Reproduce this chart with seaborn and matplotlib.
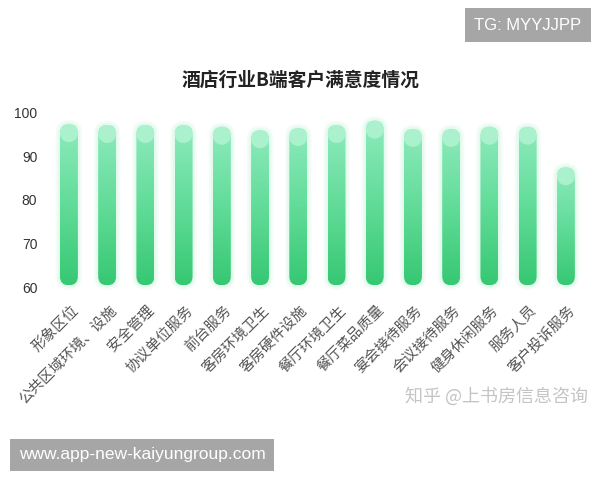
import matplotlib
matplotlib.use("Agg")
import matplotlib.pyplot as plt
import matplotlib.transforms as mtransforms
import numpy as np
import pandas as pd
import seaborn as sns
from matplotlib.colors import LinearSegmentedColormap
from matplotlib.patches import FancyBboxPatch, Ellipse

sns.set_style("white")
plt.rcParams["font.family"] = ["Noto Sans CJK SC", "DejaVu Sans"]

# Data
categories = ["形象区位", "公共区域环境、设施", "安全管理", "协议单位服务", "前台服务",
              "客房环境卫生", "客房硬件设施", "餐厅环境卫生", "餐厅菜品质量",
              "宴会接待服务", "会议接待服务", "健身休闲服务", "服务人员", "客户投诉服务"]
scores = [97.4, 97.2, 97.2, 97.2, 96.8, 96.0, 96.5, 97.2, 98.2, 96.3, 96.3, 96.8, 96.8, 87.5]
y_ticks = [60, 70, 80, 90, 100]

df = pd.DataFrame({"item": categories, "score": scores})

fig = plt.figure(figsize=(6, 4.8), dpi=100)
ax = fig.add_axes([0.083, 0.402, 0.892, 0.363])

sns.barplot(data=df, x="item", y="score", width=0.47, color="#5fdc98", ax=ax)
ax.set_ylim(60, 100)
ax.set_xlim(-0.5, len(categories) - 0.5)

# pixel scale so the rounded ends come out circular
fig.canvas.draw()
p0 = ax.transData.transform((0, 60))
p1 = ax.transData.transform((1, 70))
aspect = (p1[0] - p0[0]) / ((p1[1] - p0[1]) / 10)

cmap = LinearSegmentedColormap.from_list("grn", ["#36c873", "#62dc99", "#8eebbd"])
grad = np.linspace(0, 1, 256).reshape(-1, 1)
base = 60.4

bars = list(ax.patches)
for bar in bars:
    x, w, top = bar.get_x(), bar.get_width(), bar.get_height()
    bar.remove()
    r = w / 2
    # soft glow
    for k, a in [(0.11, 0.25), (0.055, 0.4)]:
        glow = FancyBboxPatch((x - k, base - k * aspect), w + 2 * k, top - base + 2 * k * aspect,
                              boxstyle=f"round,pad=0,rounding_size={r + k}",
                              mutation_aspect=aspect, fc="#d2f7e2", ec="none",
                              alpha=a, zorder=1, clip_on=False)
        ax.add_patch(glow)
    shape = FancyBboxPatch((x, base), w, top - base,
                           boxstyle=f"round,pad=0,rounding_size={r}",
                           mutation_aspect=aspect, fc="none", ec="none",
                           zorder=2, clip_on=False)
    ax.add_patch(shape)
    im = ax.imshow(grad, extent=[x, x + w, base, top], origin="lower",
                   aspect="auto", cmap=cmap, zorder=2)
    im.set_clip_path(shape)
    cap = Ellipse((x + r, top - r * aspect), w, 2 * r * aspect,
                  fc="#b4f4d3", ec="none", alpha=0.8, zorder=3, clip_on=False)
    ax.add_patch(cap)

ax.set_xlim(-0.5, len(categories) - 0.5)
ax.set_ylim(60, 100)
ax.set_yticks(y_ticks)
ax.set_yticklabels([str(t) for t in y_ticks], fontsize=10, color="#333333",
                   family=["Liberation Sans", "DejaVu Sans"])
ax.set_xticks(range(len(categories)))
ax.set_xticklabels(categories, rotation=45, ha="right", va="center",
                   rotation_mode="anchor", fontsize=10.5, color="#555555")
ax.tick_params(axis="x", length=0, pad=15)
ax.tick_params(axis="y", length=0, pad=9)
shift = mtransforms.ScaledTranslation(5 / 72, 0, fig.dpi_scale_trans)
for lbl in ax.get_xticklabels():
    lbl.set_transform(lbl.get_transform() + shift)
ax.set_xlabel("")
ax.set_ylabel("")
sns.despine(ax=ax, left=True, bottom=True)

fig.text(0.5, 1 - 80 / 480, "酒店行业B端客户满意度情况", ha="center", va="center",
         fontsize=13.5, fontweight="bold", color="#222222")

# watermarks
fig.text(588 / 600, 1 - 396 / 480, "知乎 @上书房信息咨询", ha="right", va="center",
         fontsize=13, color="#c4c4c4")
fig.text(528 / 600, 1 - 25 / 480, "TG: MYYJJPP", ha="center", va="center",
         fontsize=12, color="white", family=["Liberation Sans"],
         bbox=dict(boxstyle="square,pad=0.55", fc="#a6a6a6", ec="none"))
fig.text(142 / 600, 1 - 455 / 480, "www.app-new-kaiyungroup.com", ha="center", va="center",
         fontsize=12.5, color="white", family=["Liberation Sans"],
         bbox=dict(boxstyle="square,pad=0.5", fc="#a6a6a6", ec="none"))

fig.savefig("out.png", dpi=100)
